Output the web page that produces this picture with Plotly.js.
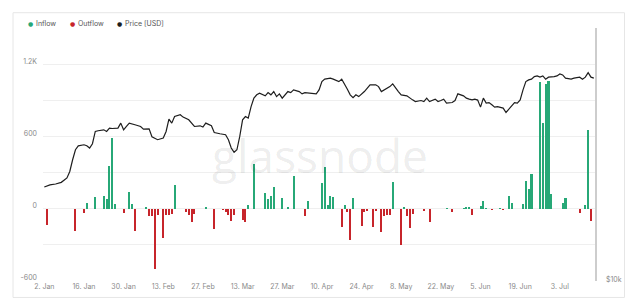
<!DOCTYPE html>
<html>
<head>
<meta charset="utf-8">
<script src="https://cdn.plot.ly/plotly-3.0.1.min.js"></script>
<style>
html,body{margin:0;padding:0;background:#fff;}
#chart{width:640px;height:301px;}
</style>
</head>
<body>
<div id="chart"></div>
<script>
// ---- data ----
const flowDates = [
 '2023-01-03','2023-01-13','2023-01-16','2023-01-17','2023-01-20','2023-01-23','2023-01-24','2023-01-25','2023-01-26','2023-01-27',
 '2023-01-30','2023-02-01','2023-02-02','2023-02-03','2023-02-06','2023-02-07','2023-02-08','2023-02-09','2023-02-10','2023-02-11',
 '2023-02-13','2023-02-14','2023-02-15','2023-02-16','2023-02-17','2023-02-21','2023-02-22','2023-02-23','2023-02-24','2023-02-27',
 '2023-02-28','2023-03-03','2023-03-06','2023-03-07','2023-03-08','2023-03-09','2023-03-10','2023-03-13','2023-03-14','2023-03-15',
 '2023-03-17','2023-03-21','2023-03-22','2023-03-23','2023-03-24','2023-03-27','2023-03-29','2023-03-31','2023-04-04','2023-04-05',
 '2023-04-10','2023-04-11','2023-04-12','2023-04-13','2023-04-14','2023-04-17','2023-04-18','2023-04-19','2023-04-20','2023-04-21',
 '2023-04-24','2023-04-25','2023-04-26','2023-04-28','2023-04-29','2023-05-01','2023-05-02','2023-05-03','2023-05-04','2023-05-05',
 '2023-05-08','2023-05-09','2023-05-10','2023-05-11','2023-05-12','2023-05-16','2023-05-18','2023-05-24','2023-05-26','2023-05-30',
 '2023-05-31','2023-06-01','2023-06-02','2023-06-05','2023-06-06','2023-06-07','2023-06-08','2023-06-09','2023-06-12','2023-06-13',
 '2023-06-15','2023-06-16','2023-06-20','2023-06-21','2023-06-22','2023-06-23','2023-06-26','2023-06-27','2023-06-28','2023-06-29',
 '2023-06-30','2023-07-04','2023-07-05','2023-07-10','2023-07-12','2023-07-13','2023-07-14'
];
const flowValues = [
 -139,-188,-36,47,97,105,80,351,587,38,
 -36,142,40,-188,-5,12,-60,-64,-500,-55,
 -243,-50,-55,-45,193,-30,-50,-113,-40,-5,
 12,-165,-10,-30,-50,-100,-50,-91,-113,27,
 372,127,80,102,177,89,15,268,-58,63,
 214,346,28,102,97,-155,28,-30,-263,89,
 -147,-25,-20,-152,-15,-196,-58,-55,-50,218,
 -299,15,-58,-160,-40,-15,-114,5,-30,10,
 12,15,-50,20,61,10,-5,-10,5,-8,
 108,47,40,227,166,288,1048,711,1034,1060,
 124,44,85,-33,33,650,-105
];

const priceDates = [
 '2023-01-02','2023-01-03','2023-01-04','2023-01-06','2023-01-08','2023-01-10','2023-01-11','2023-01-12','2023-01-13','2023-01-14',
 '2023-01-16','2023-01-17','2023-01-18','2023-01-19','2023-01-20','2023-01-21','2023-01-23','2023-01-24','2023-01-25','2023-01-26',
 '2023-01-28','2023-01-29','2023-01-30','2023-01-31','2023-02-01','2023-02-03','2023-02-05','2023-02-06','2023-02-08','2023-02-09',
 '2023-02-11','2023-02-13','2023-02-14','2023-02-15','2023-02-16','2023-02-17','2023-02-19','2023-02-20','2023-02-22','2023-02-24',
 '2023-02-26','2023-02-27','2023-02-28','2023-03-02','2023-03-03','2023-03-05','2023-03-07','2023-03-08','2023-03-09','2023-03-10',
 '2023-03-11','2023-03-12','2023-03-13','2023-03-14','2023-03-15','2023-03-16','2023-03-17','2023-03-18','2023-03-19','2023-03-21',
 '2023-03-22','2023-03-23','2023-03-24','2023-03-25','2023-03-26','2023-03-27','2023-03-29','2023-03-30','2023-03-31','2023-04-02',
 '2023-04-03','2023-04-04','2023-04-06','2023-04-08','2023-04-09','2023-04-10','2023-04-11','2023-04-13','2023-04-14','2023-04-16',
 '2023-04-17','2023-04-18','2023-04-19','2023-04-20','2023-04-21','2023-04-22','2023-04-23','2023-04-25','2023-04-26','2023-04-27',
 '2023-04-29','2023-04-30','2023-05-01','2023-05-03','2023-05-04','2023-05-05','2023-05-06','2023-05-07','2023-05-08','2023-05-10',
 '2023-05-12','2023-05-13','2023-05-15','2023-05-16','2023-05-17','2023-05-18','2023-05-20','2023-05-21','2023-05-22','2023-05-23',
 '2023-05-24','2023-05-26','2023-05-27','2023-05-28','2023-05-30','2023-05-31','2023-06-01','2023-06-02','2023-06-03','2023-06-04',
 '2023-06-05','2023-06-06','2023-06-07','2023-06-08','2023-06-09','2023-06-10','2023-06-11','2023-06-12','2023-06-13','2023-06-14',
 '2023-06-15','2023-06-16','2023-06-17','2023-06-18','2023-06-19','2023-06-20','2023-06-21','2023-06-22','2023-06-23','2023-06-24',
 '2023-06-25','2023-06-26','2023-06-27','2023-06-28','2023-06-29','2023-07-01','2023-07-02','2023-07-03','2023-07-04','2023-07-05',
 '2023-07-07','2023-07-08','2023-07-10','2023-07-11','2023-07-12','2023-07-13','2023-07-14','2023-07-15'
];
const priceValues = [
 16620,16750,16820,16900,17060,17480,18130,19350,20460,20920,
 21040,20920,20660,21160,22660,22750,22870,22660,23090,23040,
 23090,23740,22870,23300,23740,23520,23300,22960,23000,22000,
 21640,21840,22660,24280,23740,24630,24870,24550,24180,23300,
 23390,23220,23740,23390,22530,22370,22250,21640,20660,20160,
 20460,22040,24180,24630,24410,26040,27290,27800,28060,27640,
 28150,27800,28310,27530,27950,27290,28310,28150,28580,28310,
 27950,28150,28060,27950,28580,29930,30340,30510,30340,29930,
 30340,29550,28690,27800,27380,27800,27530,28310,28850,29390,
 29390,29110,28310,28850,29110,29550,28850,28310,27800,27640,
 27030,26780,26930,26780,27290,26780,27140,26780,26930,27140,
 26540,26630,26930,27950,27640,27290,27140,27030,27140,27000,
 25960,27290,26540,26630,26290,25960,26040,25960,25810,25190,
 25670,26290,26630,26540,27030,28580,29930,30220,30340,30780,
 30900,30680,30900,30340,30680,30780,30900,31240,31070,30510,
 30340,30510,30680,30340,30680,31470,30680,30510
];

const xTickDates = ['2023-01-02','2023-01-16','2023-01-30','2023-02-13','2023-02-27','2023-03-13','2023-03-27',
                    '2023-04-10','2023-04-24','2023-05-08','2023-05-22','2023-06-05','2023-06-19','2023-07-03'];
const xTickLabels = ['2. Jan','16. Jan','30. Jan','13. Feb','27. Feb','13. Mar','27. Mar',
                     '10. Apr','24. Apr','8. May','22. May','5. Jun','19. Jun','3. Jul'];
const yTickVals = [-600,-300,0,300,600,900,1200,1500];
const yTickLabels = ['-600','','0','','600','','1.2K',''];
const priceTickVals = [10000];
const priceTickLabels = ['$10k'];

const seriesNames = ['Inflow','Outflow','Price [USD]'];
const colors = {inflow:'#27a877', outflow:'#c7252b', price:'#1e1e1e'};

// ---- layout geometry (pixels) ----
const W = 640, H = 301;
const L = 43, R = 595.5, T = 28, B = 281.5;
const pw = R - L, ph = B - T;
const px = x => (x - L) / pw;
const py = y => (B - y) / ph;

const inX = [], inY = [], outX = [], outY = [];
flowDates.forEach((d, i) => {
  if (flowValues[i] >= 0) { inX.push(d); inY.push(flowValues[i]); }
  else { outX.push(d); outY.push(flowValues[i]); }
});

const barW = 0.72 * 86400000;
const traces = [
  {type:'bar', name:seriesNames[0], x:inX, y:inY, marker:{color:colors.inflow, line:{width:0}},
   width:barW, showlegend:false, hoverinfo:'skip'},
  {type:'bar', name:seriesNames[1], x:outX, y:outY, marker:{color:colors.outflow, line:{width:0}},
   width:barW, showlegend:false, hoverinfo:'skip'},
  {type:'scatter', mode:'lines', name:seriesNames[2], x:priceDates, y:priceValues, yaxis:'y2',
   line:{color:colors.price, width:1.2}, showlegend:false, hoverinfo:'skip'}
];

const tickFont = {family:'Inter, "Open Sans", sans-serif', size:7, color:'#8a8a8a'};

const annotations = [
  {xref:'paper', yref:'paper', x:px(320), y:py(155), text:'glassnode', showarrow:false,
   xanchor:'center', yanchor:'middle',
   font:{family:'"Open Sans", Inter, sans-serif', size:46, color:'rgba(0,0,0,0.085)'}}
];
const legendItems = [
  {dot:30.7, text:34, color:colors.inflow, label:seriesNames[0]},
  {dot:72.7, text:76.5, color:colors.outflow, label:seriesNames[1]},
  {dot:119.3, text:123, color:colors.price, label:seriesNames[2]}
];
legendItems.forEach(it => {
  annotations.push({xref:'paper', yref:'paper', x:px(it.dot), y:py(23.3), text:'●', showarrow:false,
    xanchor:'center', yanchor:'middle', font:{family:'DejaVu Sans', size:6, color:it.color}});
  annotations.push({xref:'paper', yref:'paper', x:px(it.text), y:py(23.3), text:it.label, showarrow:false,
    xanchor:'left', yanchor:'middle', font:{family:'Inter, sans-serif', size:7, color:'#555'}});
});

const layout = {
  width:W, height:H,
  margin:{l:L, r:W - R, t:T, b:H - B, pad:0},
  paper_bgcolor:'#fff', plot_bgcolor:'#fff',
  barmode:'overlay', bargap:0,
  showlegend:false,
  xaxis:{type:'date', range:['2023-01-01 13:00','2023-07-15 10:00'],
         tickmode:'array', tickvals:xTickDates, ticktext:xTickLabels,
         showgrid:false, zeroline:false, showline:false, ticks:'', tickfont:tickFont},
  yaxis:{range:[-600,1500], tickmode:'array', tickvals:yTickVals, ticktext:yTickLabels,
         showgrid:true, gridcolor:'#efefef', gridwidth:1, zeroline:false, showline:false,
         ticks:'', tickfont:tickFont, ticklabelstandoff:5, ticklabelshift:-3},
  yaxis2:{type:'log', overlaying:'y', side:'right', range:[3.9929, 4.6060],
          tickmode:'array', tickvals:priceTickVals, ticktext:priceTickLabels,
          showgrid:false, zeroline:false, showline:true, linecolor:'#cdcdcd', linewidth:1.5,
          ticks:'', tickfont:tickFont, ticklabelstandoff:8, ticklabelshift:1},
  shapes:[
    {type:'rect', xref:'paper', yref:'paper', x0:px(13), x1:px(625), y0:py(298), y1:py(12.7),
     line:{color:'#e6e6e6', width:1}, fillcolor:'rgba(0,0,0,0)', layer:'below'}
  ],
  annotations:annotations
};

Plotly.newPlot('chart', traces, layout, {staticPlot:true, displayModeBar:false});
</script>
</body>
</html>
